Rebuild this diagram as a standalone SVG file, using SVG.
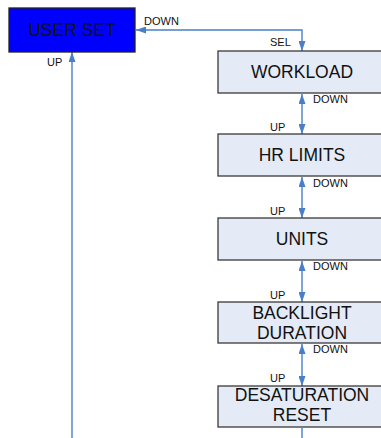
<svg xmlns="http://www.w3.org/2000/svg" width="381" height="438" viewBox="0 0 381 438">
<style>
.box{fill:#E4EBF6;stroke:#3A3A3A;stroke-width:1.3}
.blue{fill:#0000FF;stroke:#222;stroke-width:1.3}
.t{font-family:"Liberation Sans",Arial,sans-serif;font-size:17.5px;fill:#111;text-anchor:middle}
.s{font-family:"Liberation Sans",Arial,sans-serif;font-size:11px;fill:#111}
.c{fill:none;stroke:#4A7EC7;stroke-width:1.4}
</style>
<defs>
<marker id="ah" markerUnits="userSpaceOnUse" markerWidth="10" markerHeight="7" refX="10" refY="3.5" orient="auto-start-reverse">
<path d="M0,0 L10,3.5 L0,7 z" fill="#4A7EC7"/>
</marker>
</defs>
<rect width="381" height="438" fill="#fff"/>
<g id="connectors">
<path class="c" d="M302,51 L302,30 L136,30" marker-start="url(#ah)" marker-end="url(#ah)"/>
<path class="c" d="M72,438 L72,52" marker-end="url(#ah)"/>
<path class="c" d="M302,94 L302,134" marker-start="url(#ah)" marker-end="url(#ah)"/>
<path class="c" d="M302,177 L302,218" marker-start="url(#ah)" marker-end="url(#ah)"/>
<path class="c" d="M302,261 L302,302" marker-start="url(#ah)" marker-end="url(#ah)"/>
<path class="c" d="M302,344 L302,386" marker-start="url(#ah)" marker-end="url(#ah)"/>
<path class="c" d="M302,428 L302,438"/>
<text class="s" x="144" y="25">DOWN</text>
<text class="s" x="270" y="46">SEL</text>
<text class="s" x="47" y="66">UP</text>
<text class="s" x="313" y="103">DOWN</text>
<text class="s" x="270" y="131">UP</text>
<text class="s" x="313" y="187">DOWN</text>
<text class="s" x="270" y="215">UP</text>
<text class="s" x="313" y="270">DOWN</text>
<text class="s" x="270" y="299">UP</text>
<text class="s" x="313" y="353">DOWN</text>
<text class="s" x="270" y="382">UP</text>
</g>
<g id="user-set">
<rect class="blue" x="9" y="8" width="126" height="44"/>
<text class="t" x="72" y="36">USER SET</text>
</g>
<g id="workload">
<rect class="box" x="218" y="51" width="168" height="42"/>
<text class="t" x="302" y="78">WORKLOAD</text>
</g>
<g id="hr-limits">
<rect class="box" x="218" y="134" width="168" height="42"/>
<text class="t" x="302" y="161">HR LIMITS</text>
</g>
<g id="units">
<rect class="box" x="218" y="218" width="168" height="42"/>
<text class="t" x="302" y="245">UNITS</text>
</g>
<g id="backlight-duration">
<rect class="box" x="218" y="302" width="168" height="41"/>
<text class="t" x="302" y="319">BACKLIGHT</text>
<text class="t" x="302" y="339">DURATION</text>
</g>
<g id="desaturation-reset">
<rect class="box" x="218" y="386" width="168" height="41"/>
<text class="t" x="302" y="401">DESATURATION</text>
<text class="t" x="302" y="421">RESET</text>
</g>
</svg>
